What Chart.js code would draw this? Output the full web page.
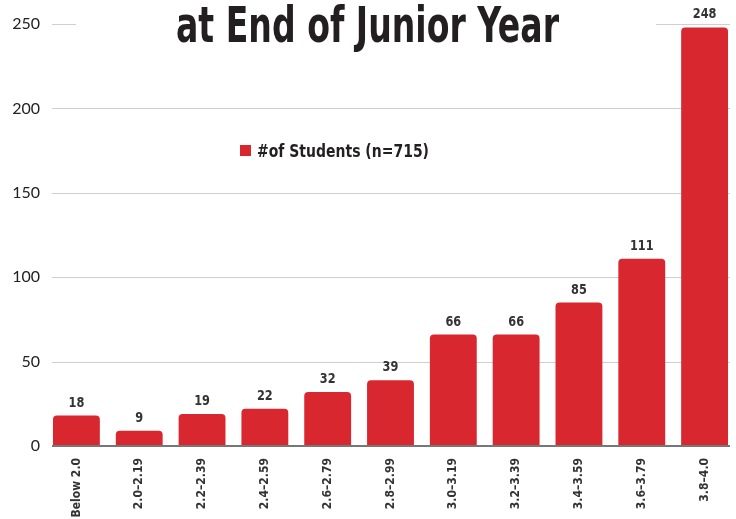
<!DOCTYPE html>
<html>
<head>
<meta charset="utf-8">
<script src="https://cdn.jsdelivr.net/npm/chart.js@4/dist/chart.umd.min.js"></script>
<style>
html,body{margin:0;padding:0;background:#fff;}
#wrap{width:736px;height:519px;position:relative;}
</style>
</head>
<body>
<div id="wrap"><canvas id="c" width="736" height="519"></canvas></div>
<script>
const categories = ["Below 2.0","2.0–2.19","2.2–2.39","2.4–2.59","2.6–2.79","2.8–2.99","3.0–3.19","3.2–3.39","3.4–3.59","3.6–3.79","3.8–4.0"];
const students = [18, 9, 19, 22, 32, 39, 66, 66, 85, 111, 248];
const seriesLabel = "#of Students (n=715)";
const titleText = "at End of Junior Year";
const yTicks = [0, 50, 100, 150, 200, 250];

const COND = '"Liberation Sans Narrow", "DejaVu Sans Condensed", "Roboto Condensed", sans-serif';
const RED = '#d9272f';

function fitText(ctx, text, x, y, targetW) {
  const w = ctx.measureText(text).width;
  ctx.save();
  ctx.translate(x, y);
  ctx.scale(targetW / w, 1);
  ctx.fillText(text, 0, 0);
  ctx.restore();
}

const gridLines = {
  id: 'gridLines',
  beforeDatasetsDraw(chart) {
    const ctx = chart.ctx;
    const y = chart.scales.y;
    ctx.save();
    yTicks.forEach(v => {
      const py = Math.round(y.getPixelForValue(v));
      if (v === 0) {
        ctx.strokeStyle = '#777';
        ctx.lineWidth = 2;
        ctx.beginPath();
        ctx.moveTo(52, py);
        ctx.lineTo(730, py);
        ctx.stroke();
      } else {
        ctx.strokeStyle = '#cfcfcf';
        ctx.lineWidth = 1;
        ctx.beginPath();
        ctx.moveTo(52, py + 0.5);
        ctx.lineTo(730, py + 0.5);
        ctx.stroke();
      }
    });
    ctx.restore();
  }
};

const overlay = {
  id: 'overlay',
  afterDatasetsDraw(chart) {
    const ctx = chart.ctx;
    const meta = chart.getDatasetMeta(0);
    // redraw zero line over bars bottom
    const y0 = Math.round(chart.scales.y.getPixelForValue(0));
    ctx.save();
    ctx.strokeStyle = '#777';
    ctx.lineWidth = 2;
    ctx.beginPath();
    ctx.moveTo(52, y0);
    ctx.lineTo(730, y0);
    ctx.stroke();
    ctx.restore();

    // value labels
    ctx.save();
    ctx.fillStyle = '#333';
    ctx.font = 'bold 14px ' + COND;
    ctx.textAlign = 'center';
    ctx.textBaseline = 'alphabetic';
    meta.data.forEach((bar, i) => {
      const t = String(chart.data.datasets[0].data[i]);
      ctx.save();
      ctx.translate(bar.x, bar.y - 9);
      ctx.scale(0.9, 1);
      ctx.fillText(t, 0, 0);
      ctx.restore();
    });
    ctx.restore();

    // title with white background covering gridline
    ctx.save();
    ctx.fillStyle = '#fff';
    ctx.fillRect(76, 0, 580, 52);
    ctx.fillStyle = '#231f20';
    ctx.font = 'bold 50px ' + COND;
    ctx.textAlign = 'left';
    ctx.textBaseline = 'alphabetic';
    fitText(ctx, titleText, 176, 42, 383);
    ctx.restore();

    // legend
    ctx.save();
    ctx.fillStyle = RED;
    ctx.fillRect(240, 145, 11, 11);
    ctx.fillStyle = '#231f20';
    ctx.font = 'bold 17px ' + COND;
    ctx.textAlign = 'left';
    ctx.textBaseline = 'alphabetic';
    fitText(ctx, chart.data.datasets[0].label, 257, 157, 172);
    ctx.restore();
  }
};

new Chart(document.getElementById('c'), {
  type: 'bar',
  data: {
    labels: categories,
    datasets: [{
      label: seriesLabel,
      data: students,
      backgroundColor: RED,
      borderRadius: {topLeft: 4, topRight: 4, bottomLeft: 0, bottomRight: 0},
      borderSkipped: 'bottom',
      barPercentage: 0.746,
      categoryPercentage: 1.0
    }]
  },
  options: {
    responsive: false,
    animation: false,
    devicePixelRatio: 1,
    layout: {padding: {top: 24, right: -2, left: 0, bottom: 0}},
    plugins: {
      legend: {display: false},
      title: {display: false},
      tooltip: {enabled: false}
    },
    scales: {
      x: {
        grid: {display: false, drawTicks: false},
        border: {display: false},
        ticks: {
          color: '#333',
          font: {family: COND, size: 12, weight: 'bold'},
          minRotation: 90, maxRotation: 90,
          padding: 12,
          autoSkip: false
        },
        afterFit(scale) { scale.height = 73; }
      },
      y: {
        min: 0, max: 250,
        afterBuildTicks(scale) { scale.ticks = yTicks.map(v => ({value: v})); },
        grid: {display: false, drawTicks: false},
        border: {display: false},
        ticks: {
          color: '#222',
          font: {family: 'Lato, "Open Sans", sans-serif', size: 16},
          padding: 5
        },
        afterFit(scale) { scale.width = 45; }
      }
    }
  },
  plugins: [gridLines, overlay]
});
</script>
</body>
</html>
